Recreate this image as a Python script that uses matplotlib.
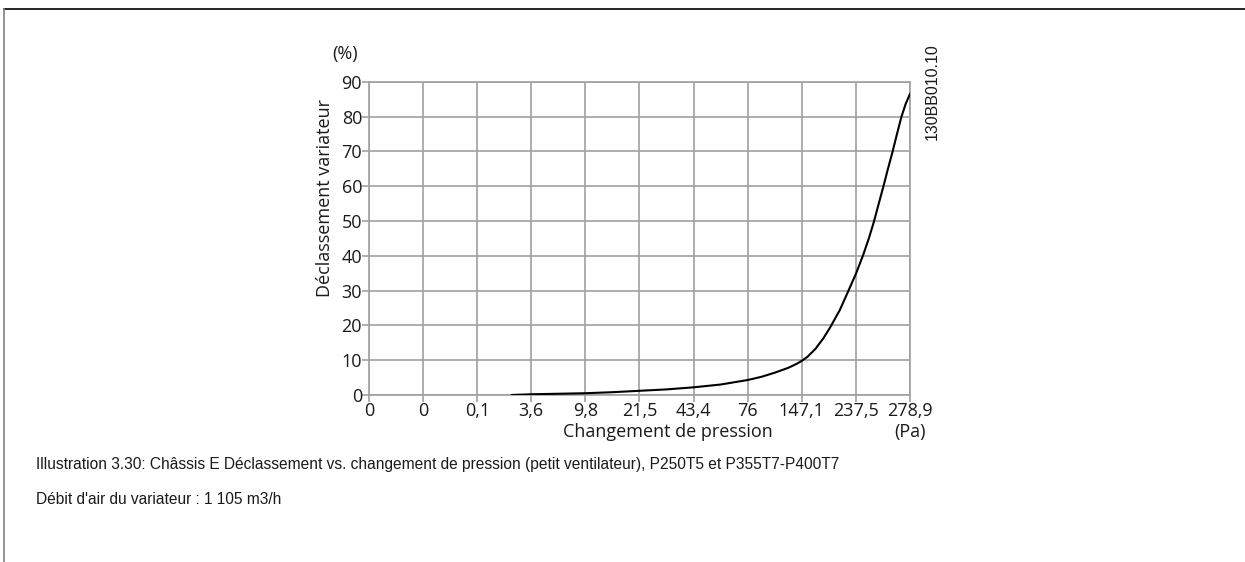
import matplotlib
matplotlib.use('Agg')
from matplotlib import pyplot as plt

#------------------------------------------------------------------------------
# Data (x as position on the evenly spaced pressure axis)
#------------------------------------------------------------------------------
tick_labels = ['0', '0', '0,1', '3,6', '9,8', '21,5', '43,4', '76', '147,1', '237,5', '278,9']
y_ticks = [0, 10, 20, 30, 40, 50, 60, 70, 80, 90]

curve_pos = [2.64, 3, 3.5, 4, 4.5, 5, 5.5, 6, 6.5, 7, 7.25, 7.5, 7.75, 7.9, 8, 8.1, 8.25,
             8.4, 8.52, 8.7, 8.85, 9, 9.13, 9.24, 9.33, 9.42, 9.51, 9.59, 9.68, 9.76,
             9.84, 9.92, 10]
curve_val = [0, 0.2, 0.35, 0.5, 0.8, 1.2, 1.6, 2.2, 3.0, 4.3, 5.2, 6.4, 7.8, 8.9, 9.8, 10.9, 13.2,
             16.3, 19.3, 24.3, 29.5, 34.8, 40, 45, 49.6, 54.8, 60, 64.8, 70, 75,
             79.8, 83.6, 86.5]

grid_col = '#a0a0a0'
txt_col = '#1a1a1a'
fnt = 'Open Sans'
fs = 13

#------------------------------------------------------------------------------
# Figure
#------------------------------------------------------------------------------
fig = plt.figure(figsize=(12.45, 5.62), dpi=100)
ax = fig.add_axes([0.2964, 0.2972, 0.4345, 0.5574])

ax.plot(curve_pos, curve_val, color='black', lw=1.5, solid_joinstyle='round', zorder=3)

ax.set_xlim(0, 10)
ax.set_ylim(0, 90)
ax.set_xticks(range(len(tick_labels)))
ax.set_xticklabels(tick_labels, family=fnt, fontsize=fs, color=txt_col)
ax.set_yticks(y_ticks)
ax.set_yticklabels([str(v) for v in y_ticks], family=fnt, fontsize=fs, color=txt_col)
ax.tick_params(length=5, width=1.2, color=grid_col, pad=0)
ax.grid(True, color=grid_col, lw=1.2)
for s in ax.spines.values():
    s.set_color(grid_col)
    s.set_linewidth(1.2)

ax.set_ylabel('Déclassement variateur', family=fnt, fontsize=fs, color=txt_col)
ax.yaxis.set_label_coords(-0.081, 0.63)
ax.yaxis.label.set_verticalalignment('center')
ax.text(-0.044, 1.088, '(%)', transform=ax.transAxes, family=fnt, fontsize=fs,
        color=txt_col, ha='center', va='center')
ax.text(0.553, -0.118, 'Changement de pression', transform=ax.transAxes, family=fnt,
        fontsize=fs, color=txt_col, ha='center', va='center')
ax.text(1.0, -0.118, '(Pa)', transform=ax.transAxes, family=fnt, fontsize=fs,
        color=txt_col, ha='center', va='center')
ax.text(1.041, 0.967, '130BB010.10', transform=ax.transAxes, family='Liberation Sans',
        fontsize=11.5, color=txt_col, rotation=90, ha='center', va='center')

# caption
fig.text(36 / 1245, 1 - 464 / 562, 'Illustration 3.30: Châssis E Déclassement vs. changement de pression (petit ventilateur), P250T5 et P355T7-P400T7',
         family='Liberation Sans', fontsize=11.2, color=txt_col, va='center')
fig.text(36 / 1245, 1 - 500 / 562, "Débit d'air du variateur : 1 105 m3/h",
         family='Liberation Sans', fontsize=11.2, color=txt_col, va='center')

# page frame
fig.add_artist(plt.Line2D([4 / 1245, 1], [1 - 9 / 562] * 2, color='black', lw=1.2))
fig.add_artist(plt.Line2D([4 / 1245] * 2, [0, 1 - 9 / 562], color='#808080', lw=1.2))

fig.savefig('out.png', dpi=100)
